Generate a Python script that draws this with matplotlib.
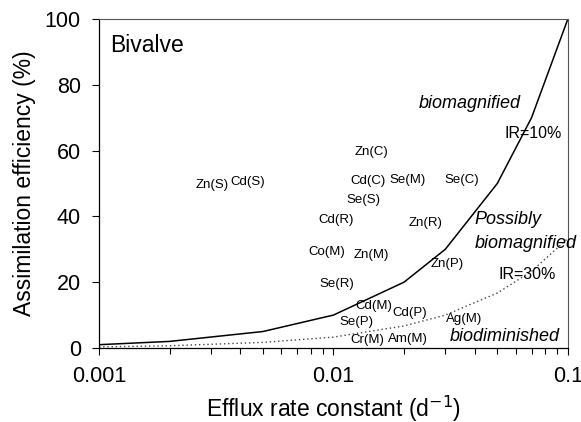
import matplotlib
matplotlib.use("Agg")
import matplotlib.pyplot as plt
from matplotlib.ticker import FixedLocator, FixedFormatter, LogLocator, NullFormatter

plt.rcParams['font.family'] = ['Liberation Sans', 'DejaVu Sans']

# IR = 10% line (solid) and IR = 30% line (dotted)
k_ir10 = [0.001, 0.002, 0.005, 0.01, 0.02, 0.03, 0.05, 0.07, 0.1]
ae_ir10 = [1, 2, 5, 10, 20, 30, 50, 70, 100]
k_ir30 = [0.001, 0.002, 0.005, 0.01, 0.02, 0.03, 0.05, 0.07, 0.1]
ae_ir30 = [0.33, 0.67, 1.7, 3.3, 6.7, 10, 16.7, 23.3, 33.3]

# metal / food labels
labels = ['Zn(S)', 'Cd(S)', 'Zn(C)', 'Cd(C)', 'Se(M)', 'Se(C)', 'Se(S)',
          'Cd(R)', 'Zn(R)', 'Co(M)', 'Zn(M)', 'Zn(P)', 'Se(R)', 'Cd(M)',
          'Cd(P)', 'Se(P)', 'Ag(M)', 'Cr(M)', 'Am(M)']
k_vals = [0.00303, 0.00431, 0.0145, 0.0140, 0.0207, 0.0353, 0.0134,
          0.0103, 0.0246, 0.0094, 0.0145, 0.0305, 0.0103, 0.0149,
          0.0212, 0.0125, 0.0360, 0.0140, 0.0208]
ae_vals = [49.4, 50.3, 59.5, 50.9, 51.2, 51.2, 45.1,
           39.0, 38.1, 29.3, 28.4, 25.6, 19.5, 12.8,
           10.7, 7.9, 8.8, 2.4, 2.7]

fig = plt.figure(figsize=(5.81, 4.22), dpi=100)
ax = fig.add_axes([0.1704, 0.1754, 0.807, 0.7796])

ax.plot(k_ir10, ae_ir10, color='black', lw=1.1)
ax.plot(k_ir30, ae_ir30, color='#444444', lw=1.0, ls=(0, (1, 2)))

for lab, k, a in zip(labels, k_vals, ae_vals):
    ax.text(k, a, lab, ha='center', va='center', fontsize=9.5)

ax.text(0.0709, 65.2, 'IR=10%', ha='center', va='center', fontsize=11.5)
ax.text(0.0669, 22.3, 'IR=30%', ha='center', va='center', fontsize=11.5)
ax.text(0.0382, 74.4, 'biomagnified', ha='center', va='center', fontsize=13, style='italic')
ax.text(0.0401, 39.0, 'Possibly', ha='left', va='center', fontsize=13, style='italic')
ax.text(0.0401, 31.7, 'biomagnified', ha='left', va='center', fontsize=13, style='italic')
ax.text(0.0539, 3.4, 'biodiminished', ha='center', va='center', fontsize=13, style='italic')
ax.text(0.023, 0.92, 'Bivalve', transform=ax.transAxes, ha='left', va='center', fontsize=16.5)

ax.set_xscale('log')
ax.set_xlim(0.001, 0.1)
ax.set_ylim(0, 100)
ax.xaxis.set_major_locator(FixedLocator([0.001, 0.01, 0.1]))
ax.xaxis.set_major_formatter(FixedFormatter(['0.001', '0.01', '0.1']))
ax.xaxis.set_minor_locator(LogLocator(base=10, subs=range(2, 10)))
ax.xaxis.set_minor_formatter(NullFormatter())
ax.set_yticks([0, 20, 40, 60, 80, 100])

ax.tick_params(axis='both', which='major', labelsize=15.5, direction='out', length=5, width=0.8, pad=8)
ax.tick_params(axis='x', which='minor', direction='out', length=4, width=0.8)
for s in ['top', 'right']:
    ax.spines[s].set_color('#555555')
    ax.spines[s].set_linewidth(0.8)
for s in ['left', 'bottom']:
    ax.spines[s].set_linewidth(0.9)

ax.set_xlabel('Efflux rate constant (d$^{-1}$)', fontsize=16.5, labelpad=5)
ax.set_ylabel('Assimilation efficiency (%)', fontsize=16.5, labelpad=6)

fig.savefig('out.png', dpi=100)
